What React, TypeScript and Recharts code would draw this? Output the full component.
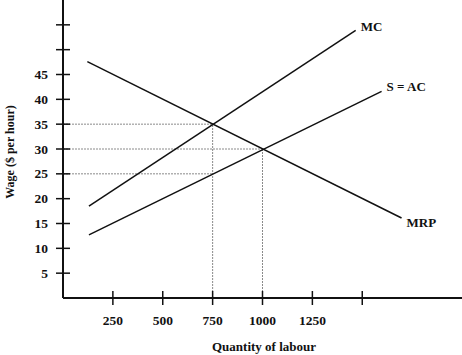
import * as React from 'react';
import {
  ComposedChart,
  Line,
  XAxis,
  YAxis,
  ReferenceLine,
  LabelList,
} from 'recharts';

// curve end points (quantity, wage)
const mcQty = [130, 1467];
const mcWage = [18.5, 53.9];
const acQty = [130, 1597];
const acWage = [12.7, 41.6];
const mrpQty = [122, 1697];
const mrpWage = [47.6, 16.1];

// dotted guides: monopsony (750, 35 / 25) and competitive (1000, 30)
const guideQty = [750, 1000, 750];
const guideWage = [35, 30, 25];
const dropQty = [750, 1000];
const dropWage = [35, 30];

const xTicks = [250, 500, 750, 1000, 1250, 1500];
const xLabelled = [250, 500, 750, 1000, 1250];
const yTicks = [5, 10, 15, 20, 25, 30, 35, 40, 45, 50, 55];
const yLabelled = [5, 10, 15, 20, 25, 30, 35, 40, 45];

const W = 462;
const H = 355;
const AXIS_X = 63;
const AXIS_Y = 298;
const FONT = '"Liberation Serif", "Times New Roman", serif';
const INK = '#111';
const GUIDE = '#8a8a8a';

const toRows = (qs: number[], ws: number[], name: string) =>
  qs.map((q, i) => ({ q, w: ws[i], name: i === qs.length - 1 ? name : '' }));

const mcData = toRows(mcQty, mcWage, 'MC');
const acData = toRows(acQty, acWage, 'S = AC');
const mrpData = toRows(mrpQty, mrpWage, 'MRP');

function YTick(props: any) {
  const { y, payload } = props;
  return (
    <g>
      <line x1={AXIS_X - 7} x2={AXIS_X + 7} y1={y} y2={y} stroke={INK} strokeWidth={1.5} />
      {yLabelled.includes(payload.value) && (
        <text
          x={AXIS_X - 15}
          y={y}
          dy={4.5}
          textAnchor="end"
          fontFamily={FONT}
          fontWeight="bold"
          fontSize={13.5}
          fill={INK}
        >
          {payload.value}
        </text>
      )}
    </g>
  );
}

function XTick(props: any) {
  const { x, payload } = props;
  return (
    <g>
      <line x1={x} x2={x} y1={AXIS_Y - 7} y2={AXIS_Y + 7} stroke={INK} strokeWidth={1.5} />
      {xLabelled.includes(payload.value) && (
        <text
          x={x}
          y={AXIS_Y + 27}
          textAnchor="middle"
          fontFamily={FONT}
          fontWeight="bold"
          fontSize={13.5}
          fill={INK}
        >
          {payload.value}
        </text>
      )}
    </g>
  );
}

function EndLabel(dy: number) {
  return (props: any) => {
    const { x, y, value } = props;
    if (!value) return null;
    return (
      <text
        x={x + 5}
        y={y + dy}
        fontFamily={FONT}
        fontWeight="bold"
        fontSize={13}
        fill={INK}
      >
        {value}
      </text>
    );
  };
}

export default function App() {
  return (
    <div style={{ position: 'absolute', left: 0, top: 0, width: W, height: H, background: '#fff' }}>
      <ComposedChart width={W} height={H} margin={{ top: 0, right: 0, bottom: 0, left: 0 }}>
        <XAxis
          type="number"
          dataKey="q"
          domain={[0, 2000]}
          ticks={xTicks}
          interval={0}
          tick={<XTick />}
          tickLine={false}
          axisLine={{ stroke: INK, strokeWidth: 2 }}
          allowDataOverflow
          height={H - AXIS_Y}
        />
        <YAxis
          type="number"
          dataKey="w"
          domain={[0, 60]}
          ticks={yTicks}
          interval={0}
          tick={<YTick />}
          tickLine={false}
          axisLine={{ stroke: INK, strokeWidth: 2 }}
          allowDataOverflow
          width={AXIS_X}
        />

        {guideQty.map((q, i) => (
          <ReferenceLine
            key={`h${i}`}
            segment={[{ x: 0, y: guideWage[i] }, { x: q, y: guideWage[i] }]}
            stroke={GUIDE}
            strokeDasharray="2 1"
            strokeWidth={1}
          />
        ))}
        {dropQty.map((q, i) => (
          <ReferenceLine
            key={`v${i}`}
            segment={[{ x: q, y: 0 }, { x: q, y: dropWage[i] }]}
            stroke={GUIDE}
            strokeDasharray="2 1"
            strokeWidth={1}
          />
        ))}

        <Line data={mcData} dataKey="w" stroke={INK} strokeWidth={1.5} dot={false} isAnimationActive={false}>
          <LabelList dataKey="name" content={EndLabel(1)} />
        </Line>
        <Line data={acData} dataKey="w" stroke={INK} strokeWidth={1.5} dot={false} isAnimationActive={false}>
          <LabelList dataKey="name" content={EndLabel(0)} />
        </Line>
        <Line data={mrpData} dataKey="w" stroke={INK} strokeWidth={1.5} dot={false} isAnimationActive={false}>
          <LabelList dataKey="name" content={EndLabel(9)} />
        </Line>
      </ComposedChart>

      <svg width={W} height={H} style={{ position: 'absolute', left: 0, top: 0, pointerEvents: 'none' }}>
        <text
          x={264}
          y={351}
          textAnchor="middle"
          fontFamily={FONT}
          fontWeight="bold"
          fontSize={13}
          fill={INK}
        >
          Quantity of labour
        </text>
        <text
          x={14}
          y={152}
          textAnchor="middle"
          transform="rotate(-90 14 152)"
          fontFamily={FONT}
          fontWeight="bold"
          fontSize={12}
          fill={INK}
        >
          Wage ($ per hour)
        </text>
      </svg>
    </div>
  );
}
